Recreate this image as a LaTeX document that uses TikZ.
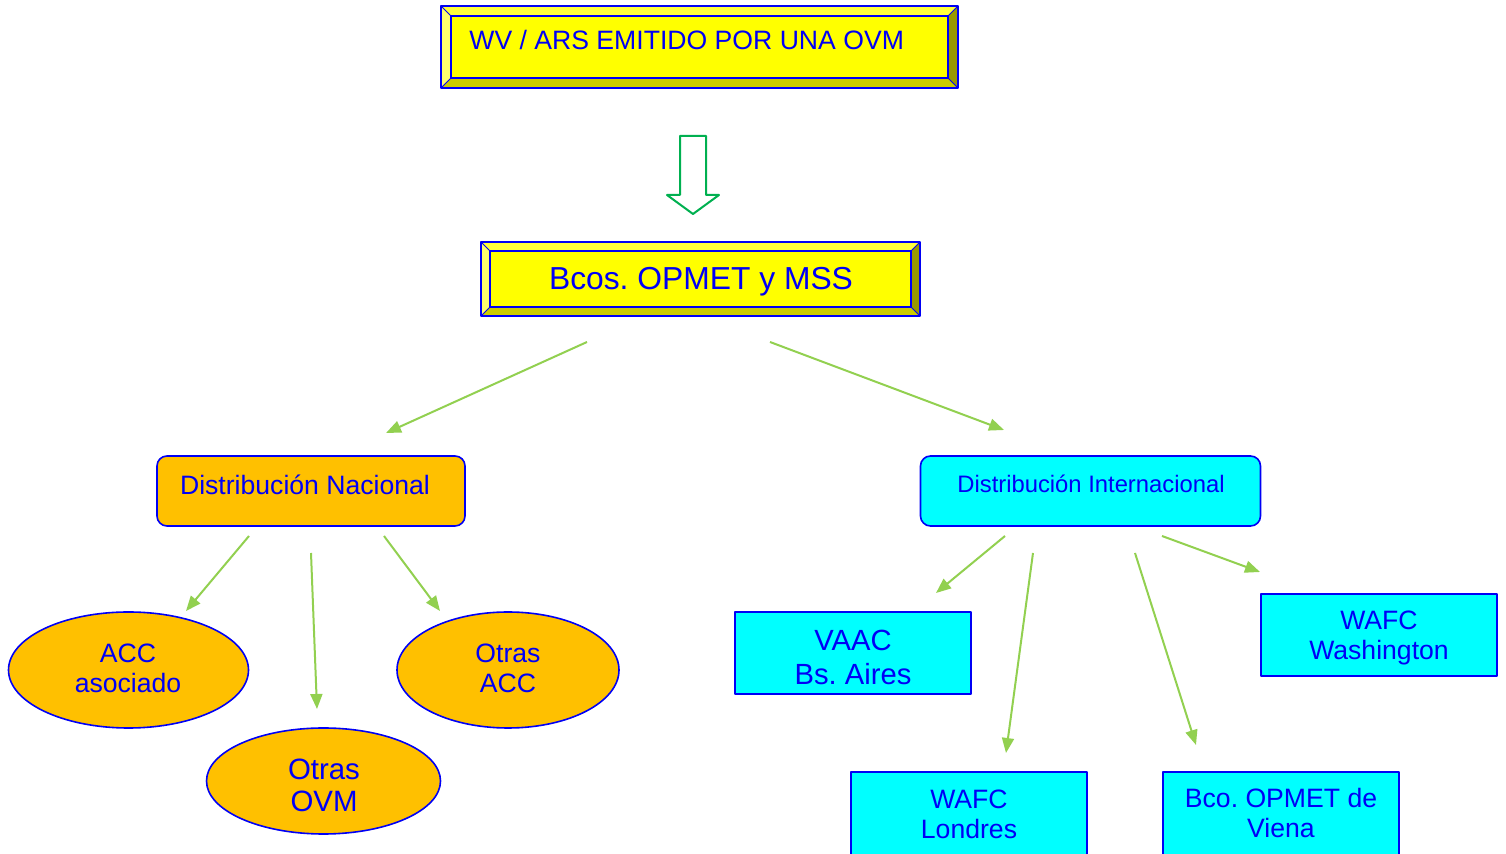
\documentclass[tikz,border=0pt]{standalone}
\usepackage{fontspec}
\setmainfont{Liberation Sans}
\usetikzlibrary{shapes.geometric,arrows.meta}
\definecolor{azul}{RGB}{0,0,245}
\definecolor{amarillo}{RGB}{255,255,0}
\definecolor{bevA}{RGB}{255,255,60}
\definecolor{bevB}{RGB}{255,255,110}
\definecolor{bevC}{RGB}{204,204,0}
\definecolor{bevD}{RGB}{153,153,0}
\definecolor{naranja}{RGB}{255,192,0}
\definecolor{celeste}{RGB}{0,255,255}
\definecolor{verde}{RGB}{146,208,80}
\definecolor{verdeosc}{RGB}{0,176,80}
\newcommand\tsize[2]{\fontsize{#1}{#2}\selectfont}
\frenchspacing
\tikzset{
  txt/.style={text=azul,align=center,inner sep=0pt},
  redbox/.style={draw=azul,line width=.8pt,rounded corners=5pt,minimum width=154pt,minimum height=35pt,inner sep=0pt},
  elip/.style={ellipse,draw=azul,line width=.8pt,fill=naranja,inner sep=0pt},
  caja/.style={draw=azul,line width=.8pt,fill=celeste,minimum width=118pt,minimum height=41pt,inner sep=0pt},
  link/.style={verde,line width=1pt,-{Triangle[length=7.5pt,width=6pt]}}
}
\begin{document}
\begin{tikzpicture}[x=.5pt,y=-.5pt,line join=round]
\useasboundingbox (0,0) rectangle (1506,854);
% cajas biseladas
\foreach \l/\t/\r/\b/\d in {441/6/958/88/10,481/242/920/316/9}{
  \fill[bevA] (\l,\t)--(\r,\t)--(\r-\d,\t+\d)--(\l+\d,\t+\d)--cycle;
  \fill[bevB] (\l,\t)--(\l+\d,\t+\d)--(\l+\d,\b-\d)--(\l,\b)--cycle;
  \fill[bevC] (\l,\b)--(\l+\d,\b-\d)--(\r-\d,\b-\d)--(\r,\b)--cycle;
  \fill[bevD] (\r,\t)--(\r,\b)--(\r-\d,\b-\d)--(\r-\d,\t+\d)--cycle;
  \draw[azul,line width=.5pt] (\l,\t)--(\l+\d,\t+\d) (\r,\t)--(\r-\d,\t+\d)
    (\l,\b)--(\l+\d,\b-\d) (\r,\b)--(\r-\d,\b-\d);
  \draw[azul,line width=.8pt,fill=amarillo] (\l+\d,\t+\d) rectangle (\r-\d,\b-\d);
  \draw[azul,line width=.8pt] (\l,\t) rectangle (\r,\b);
}
\node[txt,anchor=west,font=\tsize{13.3}{16}] (ovm) at (469,40) {WV / ARS EMITIDO POR UNA OVM};
\node[txt,font=\tsize{15.9}{18}] (bcos) at (701,282) {Bcos. OPMET y MSS};
% flecha hueca
\draw[verdeosc,line width=1pt] (680,136)--(706,136)--(706,195)--(719,195)--(693,214)--(667,195)--(680,195)--cycle;
% distribucion
\node[redbox,fill=naranja] (nac) at (311,491) {};
\node[txt,font=\tsize{13.3}{16}] (nactxt) at (305,485) {Distribución Nacional};
\node[redbox,fill=celeste,minimum width=170pt] (int) at (1090.5,491) {};
\node[txt,font=\tsize{11.9}{14}] (inttxt) at (1091,484) {Distribución Internacional};
% nacional
\node[elip,minimum width=120pt,minimum height=58pt] (acc) at (128.5,670) {};
\node[txt,font=\tsize{13.3}{15}] (acctxt) at (128,668) {ACC\\asociado};
\node[elip,minimum width=117pt,minimum height=53pt] (ovmo) at (323.5,781) {};
\node[txt,font=\tsize{14.7}{16}] (ovmotxt) at (324,785) {Otras\\OVM};
\node[elip,minimum width=111pt,minimum height=58pt] (acco) at (508,670) {};
\node[txt,font=\tsize{13.3}{15}] (accotxt) at (508,668) {Otras\\ACC};
% internacional
\node[caja] (vaac) at (853,653) {};
\node[txt,font=\tsize{14.6}{17}] (vaactxt) at (853,657) {VAAC\\Bs. Aires};
\node[caja,minimum height=42pt] (lon) at (969,814) {};
\node[txt,font=\tsize{13.3}{15}] (lontxt) at (969,814) {WAFC\\Londres};
\node[caja,minimum height=42pt] (vie) at (1281,814) {};
\node[txt,font=\tsize{13.3}{15}] (vietxt) at (1281,813) {Bco. OPMET de\\Viena};
\node[caja] (was) at (1379,635) {};
\node[txt,font=\tsize{13.3}{15}] (wastxt) at (1379,638) {WAFC\\Washington};
% flechas
\foreach \n/\x/\y in {b1/587/342,b2/386/433,b3/770/342,b4/1004/430,
  n1/249/536,n2/186/611,n3/311/553,n4/317/709,n5/384/536,n6/440/611,
  i1/1005/536,i2/936/593,i3/1033/553,i4/1006/753,i5/1135/553,i6/1196/745,i7/1162/536,i8/1260/572}
  \coordinate (\n) at (\x,\y);
\foreach \a/\b in {b1/b2,b3/b4,n1/n2,n3/n4,n5/n6,i1/i2,i3/i4,i5/i6,i7/i8}\draw[link] (\a)--(\b);
\end{tikzpicture}
\end{document}
